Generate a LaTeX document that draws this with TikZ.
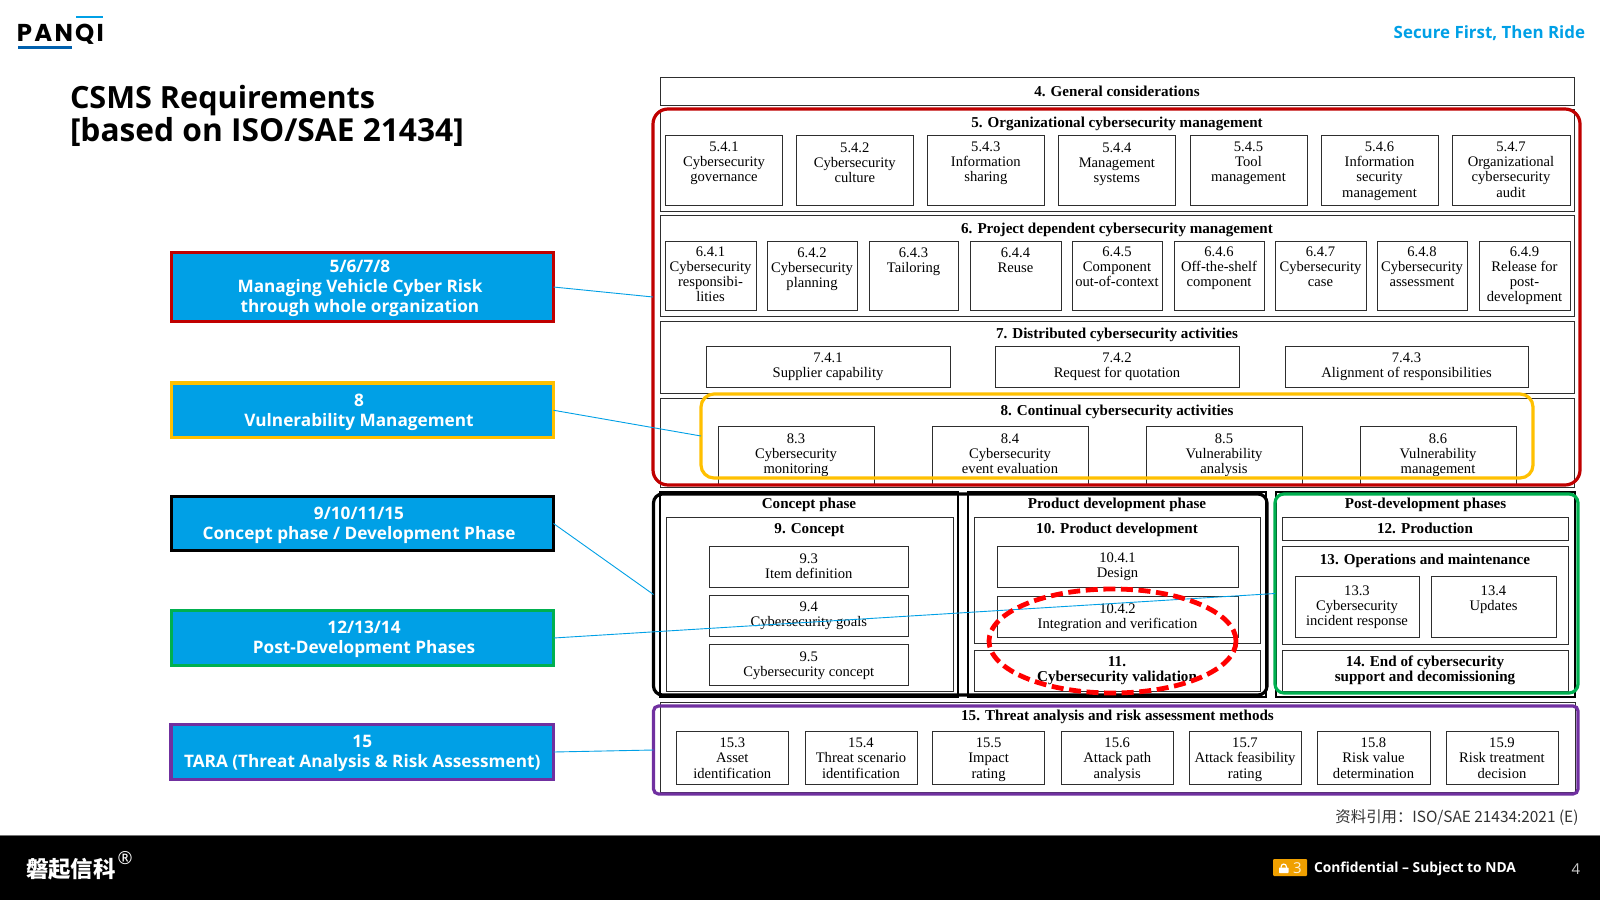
\documentclass[tikz,border=0pt]{standalone}
\usepackage{fontspec}
\usetikzlibrary{shapes.geometric}
\setmainfont{Liberation Serif}
\newfontfamily\uifont{Open Sans}
\newfontfamily\cjkfont{Noto Sans CJK SC}
\newfontfamily\logofont[LetterSpace=9]{Poppins}
\definecolor{panblue}{HTML}{00A0E6}
\definecolor{pandark}{HTML}{0060AE}
\definecolor{panred}{HTML}{C00000}
\definecolor{panyellow}{HTML}{FFC000}
\definecolor{pangreen}{HTML}{00B050}
\definecolor{panpurple}{HTML}{7030A0}
\definecolor{panorange}{HTML}{F0A000}
\newcommand{\tf}{\bfseries\fontsize{7.55}{7.65}\selectfont}
\tikzset{
  boxnode/.style={draw=black!82,line width=0.5pt,inner sep=0pt,outer sep=0pt,rectangle,
    font=\fontsize{7.3}{7.65}\selectfont},
  phasebox/.style={draw=black,line width=1pt},
  frame/.style={draw=#1,line width=1.6pt,inner sep=0pt,outer sep=0pt,rectangle,fill=none},
  callout/.style={draw=#1,line width=1.6pt,fill=panblue,text=white,inner sep=0pt,outer sep=0pt,rectangle,
    font=\uifont\bfseries\fontsize{8.6}{10}\selectfont},
  link/.style={draw=panblue,line width=0.45pt},
  uitext/.style={inner sep=0pt,outer sep=0pt}
}
\newcommand{\bx}[8][]{%
  \pgfmathsetmacro\bw{(#5-#3)*0.5}\pgfmathsetmacro\bh{(#6-#4)*0.5}\pgfmathsetmacro\bb{(#7+0.3)*0.5}%
  \node[boxnode,#1,minimum width=\bw pt,minimum height=\bh pt] (#2) at ({(#3+#5)/2},{(#4+#6)/2})
    {\parbox[c][\bh pt][t]{\bw pt}{\centering\rule{0pt}{\bb pt}#8}};}
\newcommand{\frm}[7]{% name x1 y1 x2 y2 colour radius
  \pgfmathsetmacro\bw{(#4-#2)*0.5}\pgfmathsetmacro\bh{(#5-#3)*0.5}%
  \node[frame=#6,rounded corners=#7,minimum width=\bw pt,minimum height=\bh pt] (#1) at ({(#2+#4)/2},{(#3+#5)/2}) {};}
\newcommand{\cout}[8]{% name x1 y1 x2 y2 colour dx text
  \pgfmathsetmacro\bw{(#4-#2)*0.5}\pgfmathsetmacro\bh{(#5-#3)*0.5}\pgfmathsetmacro\bd{#7*0.5}%
  \node[callout=#6,minimum width=\bw pt,minimum height=\bh pt] (#1) at ({(#2+#4)/2},{(#3+#5)/2})
    {\parbox[c]{\bw pt}{\vspace*{1.6pt}\centering\leftskip=\bd pt plus 1fil\rightskip=-\bd pt plus 1fil #8}};}
\begin{document}
\begin{tikzpicture}[x=0.5pt,y=-0.5pt]
\useasboundingbox (0,0) rectangle (1600,900);
\fill[white] (0,0) rectangle (1600,900);
% footer
\fill[black] (0,835.5) rectangle (1600,900);
\draw[black!55,line width=0.5pt] (0,835.5) -- (1600,835.5);
% logo
\fill[panblue] (76,15.5) rectangle (103,18);
\fill[pandark] (18,46) rectangle (71.5,49);
\node[uitext,anchor=base west] (logo) at (17,41) {\logofont\bfseries\fontsize{12.2}{12}\selectfont PANQI};
\node[uitext,anchor=base east,text=panblue] (slogan) at (1585,38) {\uifont\bfseries\fontsize{8.45}{10}\selectfont Secure First, Then Ride};
\node[uitext,anchor=base west,align=left,font=\uifont\bfseries\fontsize{15.3}{16.5}\selectfont] (title) at (70,141)
  {CSMS Requirements\\{\fontsize{15.85}{16.5}\selectfont {[}based on ISO/SAE 21434{]}}};
% sections
\bx{s4}{660}{77}{1574}{105}{18.7}{\tf 4. General considerations}
\bx{s5}{660}{109}{1574}{211}{17.7}{\tf 5. Organizational cybersecurity management}
\bx{b541}{665.3}{135}{782.7}{205}{15.7}{5.4.1\\Cybersecurity\\governance}
\bx{b542}{796}{135}{913.6}{205}{17}{5.4.2\\Cybersecurity\\culture}
\bx{b543}{927}{135}{1044.6}{205}{15.7}{5.4.3\\Information\\sharing}
\bx{b544}{1058}{135}{1175.7}{205}{17}{5.4.4\\Management\\systems}
\bx{b545}{1190}{135}{1307}{205}{15.7}{5.4.5\\Tool\\management}
\bx{b546}{1321}{135}{1438}{205}{16}{5.4.6\\Information\\security\\management}
\bx{b547}{1452}{135}{1570}{205}{16}{5.4.7\\Organizational\\cybersecurity\\audit}
\bx{s6}{660}{215}{1574}{316}{17.7}{\tf 6. Project dependent cybersecurity management}
\bx{b641}{665}{241}{756}{310}{14.7}{6.4.1\\Cybersecurity\\responsibi-\\lities}
\bx{b642}{767}{241}{857}{310}{16}{6.4.2\\Cybersecurity\\planning}
\bx{b643}{869}{241}{958}{310}{16}{6.4.3\\Tailoring}
\bx{b644}{970}{241}{1061}{310}{16}{6.4.4\\Reuse}
\bx{b645}{1072}{241}{1162}{310}{14.7}{6.4.5\\Component\\out-of-context}
\bx{b646}{1174}{241}{1264}{310}{14.7}{6.4.6\\Off-the-shelf\\component}
\bx{b647}{1275}{241}{1366}{310}{14.7}{6.4.7\\Cybersecurity\\case}
\bx{b648}{1377}{241}{1467}{310}{14.7}{6.4.8\\Cybersecurity\\assessment}
\bx{b649}{1479}{241}{1570}{310}{14.7}{6.4.9\\Release for\\post-\\development}
\bx{s7}{660}{321}{1574}{393}{17.2}{\tf 7. Distributed cybersecurity activities}
\bx{b741}{706}{346}{950}{387}{16.2}{7.4.1\\Supplier capability}
\bx{b742}{995}{346}{1239}{387}{16.2}{7.4.2\\Request for quotation}
\bx{b743}{1285}{346}{1528}{387}{16.2}{7.4.3\\Alignment of responsibilities}
\bx{s8}{660}{398}{1574}{487}{16.7}{\tf 8. Continual cybersecurity activities}
\bx{b83}{718}{426}{874}{485}{16.7}{8.3\\Cybersecurity\\monitoring}
\bx{b84}{932}{426}{1088}{485}{16.7}{8.4\\Cybersecurity\\event evaluation}
\bx{b85}{1146}{426}{1302}{485}{16.7}{8.5\\Vulnerability\\analysis}
\bx{b86}{1360}{426}{1516}{485}{16.7}{8.6\\Vulnerability\\management}
% concept phase
\bx[phasebox]{pc}{660}{492}{958}{697}{16.5}{\tf Concept phase}
\bx{s9}{666}{517}{953}{691}{15.7}{\tf 9. Concept}
\bx{b93}{709}{546}{908.6}{587}{17}{9.3\\Item definition}
\bx{b94}{709}{595}{908.6}{636}{16.2}{9.4\\Cybersecurity goals}
\bx{b95}{709}{644}{908.6}{685}{16.7}{9.5\\Cybersecurity concept}
% product development
\bx[phasebox]{pd}{968}{492}{1266}{697}{16.5}{\tf Product development phase}
\bx{s10}{974}{517}{1260}{643}{15.7}{\tf 10. Product development}
\bx{b1041}{997}{546}{1238}{587}{16.2}{10.4.1\\Design}
\bx{b1042}{997}{596}{1238}{637}{16.7}{10.4.2\\Integration and verification}
\bx{s11}{974}{650}{1260}{691}{15.7}{\tf 11.\\Cybersecurity validation}
% post-development
\bx[phasebox]{pp}{1276}{492}{1575}{697}{16.5}{\tf Post-development phases}
\bx{s12}{1282}{517}{1568}{540}{15.7}{\tf 12. Production}
\bx{s13}{1282}{546}{1568}{644}{17.7}{\tf 13. Operations and maintenance}
\bx{b133}{1295}{576}{1419}{637}{18.7}{13.3\\Cybersecurity\\incident response}
\bx{b134}{1431}{576}{1556}{637}{18.7}{13.4\\Updates}
\bx{s14}{1282}{650}{1568}{691}{15.7}{\tf 14. End of cybersecurity\\support and decomissioning}
% TARA
\bx{s15}{660}{702}{1575}{792}{17.7}{\tf 15. Threat analysis and risk assessment methods}
\bx{b153}{676}{731}{788.6}{784}{16.2}{15.3\\Asset\\identification}
\bx{b154}{805}{731}{917}{784}{16.2}{15.4\\Threat scenario\\identification}
\bx{b155}{932.6}{731}{1044.5}{784}{16.2}{15.5\\Impact\\rating}
\bx{b156}{1061}{731}{1173.5}{784}{16.2}{15.6\\Attack path\\analysis}
\bx{b157}{1189}{731}{1301}{784}{16.2}{15.7\\Attack feasibility\\rating}
\bx{b158}{1317}{731}{1430}{784}{16.2}{15.8\\Risk value\\determination}
\bx{b159}{1446}{731}{1558}{784}{16.2}{15.9\\Risk treatment\\decision}
% coloured frames
\frm{fred}{653}{109}{1580}{485}{panred}{7.5pt}
\frm{fyellow}{701}{394}{1533}{478}{panyellow}{6.5pt}
\frm{fblack}{653.5}{494}{1267}{695}{black}{4.5pt}
\frm{fgreen}{1275}{494}{1578}{693}{pangreen}{4.5pt}
\frm{fpurple}{653.5}{706}{1578}{794}{panpurple}{2.5pt}
% callouts
\cout{cred}{171.5}{252.5}{553.5}{321.5}{panred}{-2.5}{5/6/7/8\\Managing Vehicle Cyber Risk\\through whole organization}
\cout{cyellow}{171.5}{383}{553.5}{437.5}{panyellow}{-3.5}{8\\Vulnerability Management}
\cout{cblack}{171.5}{496.5}{553.5}{550.5}{black}{-3.5}{9/10/11/15\\Concept phase / Development Phase}
\cout{cgreen}{171.5}{610.5}{553.5}{665.5}{pangreen}{1.5}{12/13/14\\Post-Development Phases}
\cout{cpurple}{171}{724.5}{553.5}{779.5}{panpurple}{0}{15\\TARA (Threat Analysis \& Risk Assessment)}
% connectors
\draw[link] (cred.east) -- (fred.west);
\draw[link] (cyellow.east) -- (fyellow.west);
\draw[link] (cblack.east) -- (fblack.west);
\draw[link] (cgreen.east) -- (fgreen.west);
\draw[link] (cpurple.east) -- (fpurple.west);
% dashed ellipse
\node[ellipse,draw=red,line width=2.4pt,dash pattern=on 6pt off 2.8pt,inner sep=0pt,outer sep=0pt,
  minimum width=123.5pt,minimum height=52pt] (focus) at (1112.5,641) {};
% source
\node[uitext,anchor=base east,text=black!80] (source) at (1578.5,822.5) {\cjkfont\fontsize{7.7}{9}\selectfont 资料引用：ISO/SAE 21434:2021 (E)};
% footer text
\node[uitext,anchor=base west,text=white] (brand) at (26,877) {\cjkfont\bfseries\fontsize{11.2}{12}\selectfont 磐起信科};
\node[uitext,text=white] (reg) at (125,858.5) {\uifont\fontsize{9}{9}\selectfont ®};
\fill[panorange,rounded corners=0.5pt] (1273,859) rectangle (1307,876);
\fill[white,rounded corners=0.3pt] (1279,867.5) rectangle (1288.5,873);
\draw[white,line width=0.6pt] (1281.1,868) -- (1281.1,866.7) arc[start angle=180,end angle=360,radius=2.65] -- (1286.4,868);
\node[uitext,text=white!85!panorange] (badge) at (1297.5,868) {\uifont\fontsize{7.5}{9}\selectfont 3};
\node[uitext,anchor=base west,text=white] (nda) at (1314,872) {\uifont\bfseries\fontsize{6.9}{9}\selectfont Confidential – Subject to NDA};
\node[uitext,text=black!20] (pageno) at (1576,869.5) {\uifont\fontsize{7.5}{9}\selectfont 4};
\end{tikzpicture}
\end{document}
